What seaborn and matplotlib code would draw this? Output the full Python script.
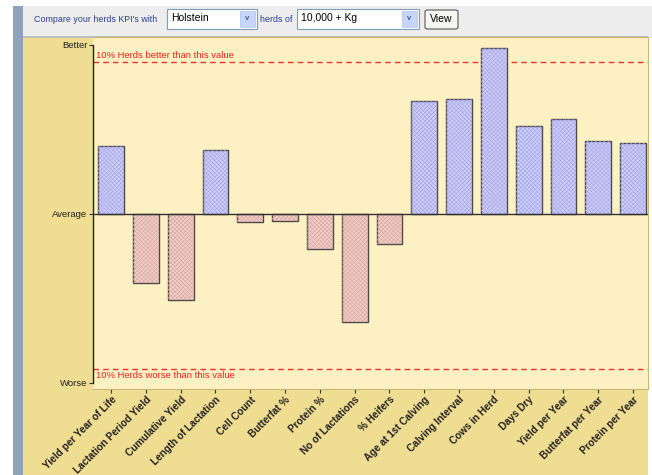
import pandas as pd
import seaborn as sns
import matplotlib.pyplot as plt
from matplotlib.patches import Rectangle, FancyBboxPatch

# KPI names and scores (-1 = Worse, 0 = Average, +1 = Better)
kpis = [
    "Yield per Year of Life", "Lactation Period Yield", "Cumulative Yield",
    "Length of Lactation", "Cell Count", "Butterfat %", "Protein %",
    "No of Lactations", "% Heifers", "Age at 1st Calving", "Calving Interval",
    "Cows in Herd", "Days Dry", "Yield per Year", "Butterfat per Year",
    "Protein per Year",
]
scores = [0.40, -0.41, -0.51, 0.38, -0.05, -0.04, -0.21, -0.64, -0.18,
          0.67, 0.68, 0.98, 0.52, 0.56, 0.43, 0.42]
top10_line = 0.90
bottom10_line = -0.92
y_tick_values = [-1, 0, 1]
y_tick_labels = ["Worse", "Average", "Better"]

df = pd.DataFrame({"KPI": kpis, "Score": scores})
df["Side"] = ["better" if s >= 0 else "worse" for s in scores]

W, H = 652, 475
sns.set_theme(style="white")
plt.rcParams["font.family"] = ["Liberation Sans", "DejaVu Sans"]
plt.rcParams["hatch.linewidth"] = 0.35

fig = plt.figure(figsize=(W / 100, H / 100), dpi=100, facecolor="white")


def fx(x):
    return x / W


def fy(y):
    return 1 - y / H


def frect(x0, y0, x1, y1, z=-1, **kw):
    fig.patches.append(Rectangle((fx(x0), fy(y1)), (x1 - x0) / W, (y1 - y0) / H,
                                 transform=fig.transFigure, zorder=z, **kw))


# page decoration: toolbar, side strip, khaki panel
frect(13, 6, 652, 38, facecolor="#EDEDED", edgecolor="none", z=-3)
frect(13, 6, 23, 475, facecolor="#8DA2BC", edgecolor="none", z=-3)
frect(23, 38, 648, 475, facecolor="#EFDE92", edgecolor="none", z=-3)
frect(23, 36, 648, 38, facecolor="#BFBFBF", edgecolor="none", z=-3)

blue_txt = "#2B3F8C"
fig.text(fx(34), fy(19), "Compare your herds KPI's with", fontsize=6.4, color=blue_txt,
         ha="left", va="center")
fig.text(fx(260), fy(19), "herds of", fontsize=6.4, color=blue_txt, ha="left", va="center")
for (x0, x1, label) in [(167, 257, "Holstein"), (297, 419, "10,000 + Kg")]:
    frect(x0, 9, x1, 29, facecolor="white", edgecolor="#7F9DB9", linewidth=0.8)
    fig.text(fx(x0 + 4), fy(18), label, fontsize=7.5, color="black", ha="left", va="center")
    frect(x1 - 17, 11, x1 - 2, 27, z=0, facecolor="#C6D5FA", edgecolor="#B0C2EA",
          linewidth=0.5)
    fig.text(fx(x1 - 9.5), fy(19), "v", fontsize=5.5, color="#4D6185", ha="center",
             va="center", fontweight="bold")
fig.patches.append(FancyBboxPatch((fx(425), fy(29)), 33 / W, 19 / H,
                                  boxstyle="round,pad=0,rounding_size=0.004",
                                  transform=fig.transFigure, facecolor="#F5F5F1",
                                  edgecolor="#555555", linewidth=0.8, zorder=-1))
fig.text(fx(441.5), fy(19), "View", fontsize=7.5, color="black", ha="center", va="center")

# plot area: cream box from x 93..648, y 37..389
ax = fig.add_axes([fx(93), fy(389), (648 - 93) / W, (389 - 37) / H])
ax.set_zorder(2)
ax.set_facecolor("#FDF0C2")

sns.barplot(data=df, x="KPI", y="Score", hue="Side", order=kpis,
            palette={"better": "#CACAFC", "worse": "#F5CCC4"},
            dodge=False, width=0.74, edgecolor="#4A4A4A", linewidth=1.0,
            legend=False, ax=ax, zorder=3)

# fine crosshatch texture on each bar
hatch_cols = {"better": "#9A9AEA", "worse": "#DA9C94"}
for p in list(ax.patches):
    if p.get_height() == 0:
        continue
    side = "better" if p.get_height() > 0 else "worse"
    ax.add_patch(Rectangle((p.get_x(), p.get_y()), p.get_width(), p.get_height(),
                           facecolor="none", edgecolor=hatch_cols[side], linewidth=0,
                           hatch="xxxxxxxx", zorder=3.5))

ax.axhline(0, color="#333333", linewidth=1.0, zorder=4)
ax.axhline(top10_line, color="#F03030", linestyle=(0, (4, 3)), linewidth=1.0, zorder=2)
ax.axhline(bottom10_line, color="#F03030", linestyle=(0, (4, 3)), linewidth=1.0, zorder=2)
ax.text(-0.43, top10_line + 0.012, "10% Herds better than this value", color="#F02020",
        fontsize=6.8, ha="left", va="bottom", zorder=5)
ax.text(-0.43, bottom10_line - 0.012, "10% Herds worse than this value", color="#F02020",
        fontsize=6.8, ha="left", va="top", zorder=5)

ax.set_ylim(-1.036, 1.047)
ax.set_xlim(-0.52, 15.43)
ax.set_yticks(y_tick_values)
ax.set_yticklabels(y_tick_labels, fontsize=6.8, color="#222222")
ax.set_xlabel("")
ax.set_ylabel("")
ax.tick_params(axis="both", length=3, width=0.8, color="#333333", pad=1,
               left=True, bottom=True)
ax.set_xticks(range(len(kpis)))
ax.set_xticklabels(kpis, rotation=45, ha="right", rotation_mode="anchor",
                   fontsize=7.2, fontweight="bold", color="#222222")

for side in ["top", "right", "bottom"]:
    ax.spines[side].set_color("#C9B670")
    ax.spines[side].set_linewidth(0.8)
ax.spines["left"].set_color("#222222")
ax.spines["left"].set_linewidth(1.0)
ax.spines["left"].set_bounds(-1, 1)

fig.savefig("out.png", dpi=100, facecolor="white")
